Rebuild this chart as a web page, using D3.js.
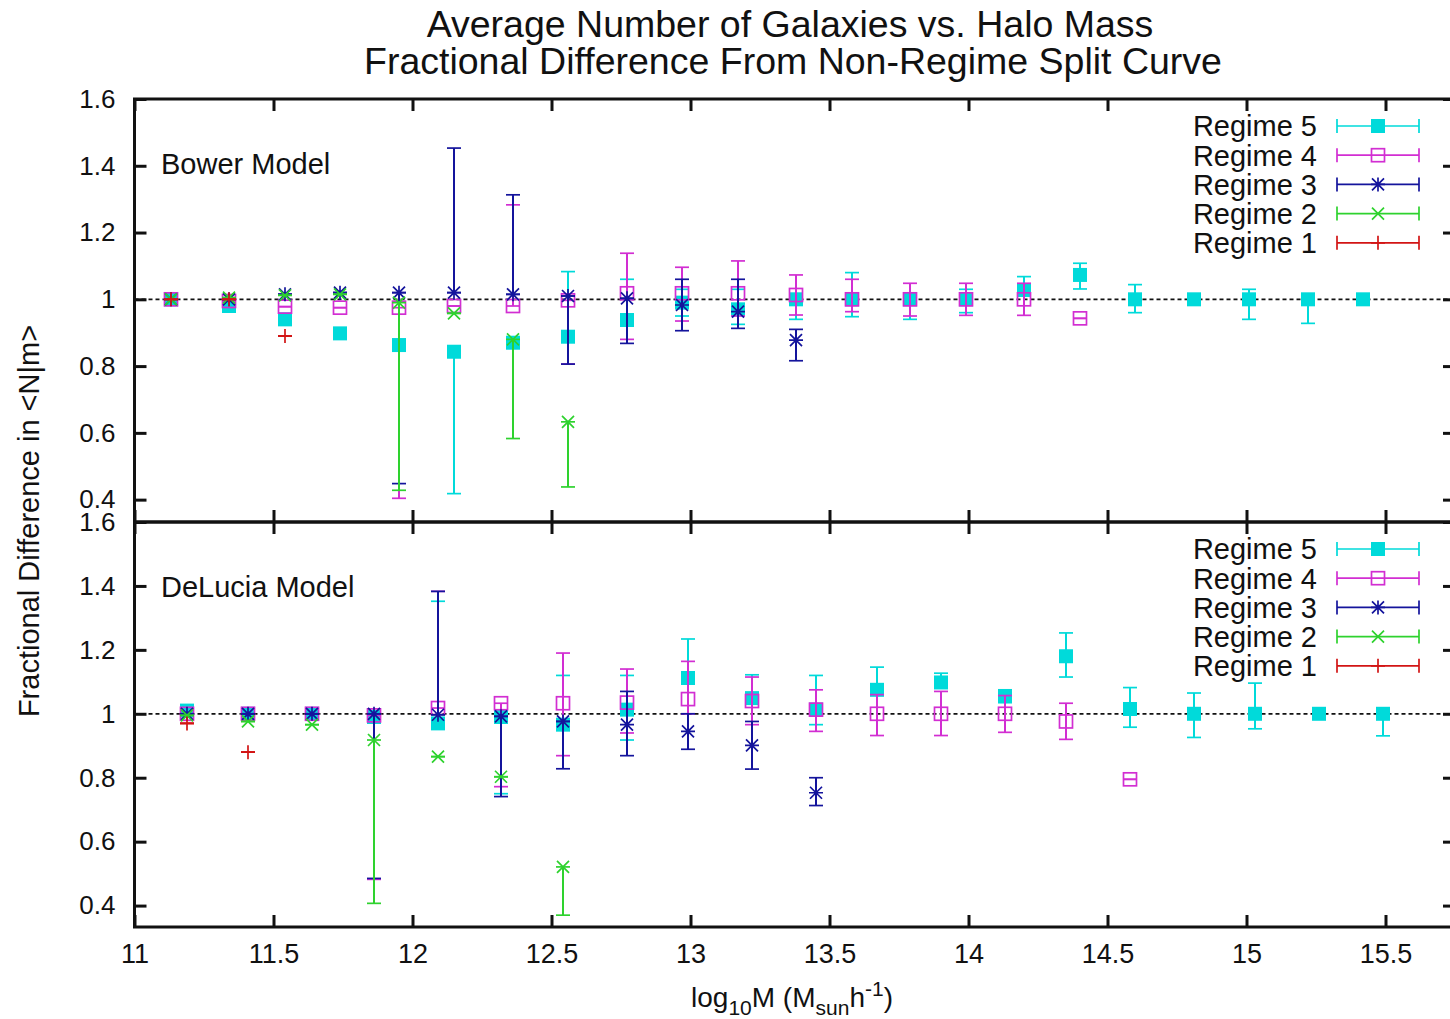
<!DOCTYPE html>
<html>
<head>
<meta charset="utf-8">
<script src="https://cdn.jsdelivr.net/npm/d3@7"></script>
<style>
  body { margin: 0; background: #fff; }
  text { font-family: "Liberation Sans", Arial, Helvetica, sans-serif; fill: #111; }
</style>
</head>
<body>
<svg id="chart" width="1450" height="1019"></svg>
<script>
// ---- Regimes (legend order = drawing order) ----
const regimeNames   = ["Regime 5", "Regime 4", "Regime 3", "Regime 2", "Regime 1"];
const regimeColors  = ["#00dada", "#d22ed2", "#14149c", "#2ed22e", "#d21414"];
const regimeSymbols = ["filledBox", "openBox", "star", "cross", "plus"];

// ---- Axis ticks ----
const massTicks      = [11, 11.5, 12, 12.5, 13, 13.5, 14, 14.5, 15, 15.5];
const massTickLabels = ["11", "11.5", "12", "12.5", "13", "13.5", "14", "14.5", "15", "15.5"];
const ratioTicks      = [0.4, 0.6, 0.8, 1, 1.2, 1.4, 1.6];
const ratioTickLabels = ["0.4", "0.6", "0.8", "1", "1.2", "1.4", "1.6"];

// ---- Bower model: halo-mass bins and [value, lower, upper] per regime ----
const bowerMass = [11.13, 11.34, 11.54, 11.74, 11.95, 12.15, 12.36, 12.56, 12.77, 12.97, 13.17,
                   13.38, 13.58, 13.79, 13.99, 14.20, 14.40, 14.60, 14.81, 15.01, 15.22, 15.42];
const bowerR5 = [[1.0, 1.0, 1.0], [0.98, 0.98, 0.98], [0.94, 0.94, 0.94], [0.898, 0.898, 0.898],
                 [0.863, 0.863, 0.863], [0.843, 0.418, 0.843], [0.87, 0.87, 0.87], [0.888, 0.888, 1.083],
                 [0.938, 0.938, 1.06], [0.99, 0.95, 1.03], [0.97, 0.925, 1.03], [1.0, 0.94, 1.0],
                 [1.0, 0.948, 1.08], [1.0, 0.94, 1.0], [1.0, 0.96, 1.03], [1.028, 1.028, 1.068],
                 [1.073, 1.031, 1.108], [1.0, 0.96, 1.044], [1.0, 0.987, 1.0], [1.0, 0.94, 1.03],
                 [1.0, 0.928, 1.0], [1.0, 1.0, 1.0]];
const bowerR4 = [[1.0, 1.0, 1.0], [0.995, 0.995, 0.995], [0.978, 0.978, 0.978], [0.975, 0.975, 0.975],
                 [0.975, 0.404, 0.975], [0.98, 0.98, 0.98], [0.98, 0.98, 1.283], [0.997, 0.806, 0.997],
                 [1.018, 0.88, 1.138], [1.018, 0.935, 1.096], [1.018, 0.95, 1.115], [1.013, 0.953, 1.073],
                 [1.0, 0.963, 1.06], [1.0, 0.95, 1.048], [1.0, 0.952, 1.048], [1.0, 0.952, 1.048],
                 [0.943, 0.943, 0.943]];
const bowerR3 = [[1.0, 1.0, 1.0], [1.0, 1.0, 1.0], [1.015, 1.015, 1.015], [1.02, 1.02, 1.02],
                 [1.02, 0.448, 1.02], [1.02, 1.02, 1.453], [1.015, 1.015, 1.313], [1.01, 0.806, 1.01],
                 [1.003, 0.868, 1.003], [0.983, 0.906, 1.06], [0.963, 0.913, 1.06], [0.878, 0.816, 0.91]];
const bowerR2 = [[1.0, 1.0, 1.0], [1.005, 1.005, 1.005], [1.012, 1.012, 1.012], [1.015, 1.015, 1.015],
                 [0.99, 0.428, 0.99], [0.958, 0.958, 0.958], [0.88, 0.583, 0.88], [0.633, 0.438, 0.633]];
const bowerR1 = [[1.0, 1.0, 1.0], [1.0, 1.0, 1.0], [0.89, 0.89, 0.89]];

// ---- DeLucia model ----
const deluciaMass = [11.19, 11.41, 11.64, 11.86, 12.09, 12.32, 12.54, 12.77, 12.99, 13.22,
                     13.45, 13.67, 13.90, 14.13, 14.35, 14.58, 14.81, 15.03, 15.26, 15.49];
const deluciaR5 = [[1.01, 1.01, 1.01], [1.0, 1.0, 1.0], [1.0, 1.0, 1.0], [0.99, 0.99, 0.99],
                   [0.97, 0.97, 1.352], [0.99, 0.75, 0.99], [0.966, 0.966, 1.12], [1.013, 0.918, 1.12],
                   [1.112, 1.112, 1.234], [1.049, 1.049, 1.122], [1.013, 0.966, 1.12], [1.075, 1.075, 1.146],
                   [1.098, 1.098, 1.127], [1.054, 1.054, 1.075], [1.18, 1.115, 1.253], [1.015, 0.958, 1.082],
                   [1.0, 0.926, 1.065], [1.0, 0.953, 1.096], [1.0, 1.0, 1.0], [1.0, 0.931, 1.0]];
const deluciaR4 = [[1.0, 1.0, 1.0], [1.0, 1.0, 1.0], [1.0, 1.0, 1.0], [0.995, 0.482, 0.995],
                   [1.018, 1.018, 1.383], [1.033, 0.772, 1.033], [1.033, 0.869, 1.19], [1.035, 0.94, 1.14],
                   [1.046, 1.0, 1.164], [1.04, 0.966, 1.115], [1.013, 0.945, 1.075], [1.0, 0.932, 1.06],
                   [1.0, 0.932, 1.07], [1.0, 0.942, 1.057], [0.976, 0.92, 1.033], [0.795, 0.795, 0.795]];
const deluciaR3 = [[1.0, 1.0, 1.0], [1.0, 1.0, 1.0], [1.0, 1.0, 1.0], [1.0, 0.485, 1.0],
                   [0.997, 0.997, 1.383], [0.992, 0.741, 0.992], [0.976, 0.828, 0.976], [0.966, 0.869, 1.07],
                   [0.945, 0.889, 1.0], [0.901, 0.827, 0.976], [0.753, 0.713, 0.80]];
const deluciaR2 = [[0.995, 0.995, 0.995], [0.976, 0.976, 0.976], [0.966, 0.966, 0.966],
                   [0.918, 0.407, 0.918], [0.866, 0.866, 0.866], [0.803, 0.803, 0.803], [0.521, 0.37, 0.521]];
const deluciaR1 = [[0.97, 0.97, 0.97], [0.88, 0.88, 0.88]];

// ---- Layout ----
const svg = d3.select("#chart");
const plotLeft = 134.5, plotRight = 1455;
const x = d3.scaleLinear().domain([11, 15.75]).range([plotLeft, plotRight]);

const panels = [
  { label: "Bower Model",   mass: bowerMass,   series: [bowerR5, bowerR4, bowerR3, bowerR2, bowerR1],
    top: 99, bottom: 522, showX: false },
  { label: "DeLucia Model", mass: deluciaMass, series: [deluciaR5, deluciaR4, deluciaR3, deluciaR2, deluciaR1],
    top: 522, bottom: 927, showX: true }
];

const ink = "#111";
const barWidth = 2;

function drawSymbol(g, kind, color) {
  if (kind === "filledBox") {
    g.append("rect").attr("x", -7).attr("y", -7).attr("width", 14).attr("height", 14)
      .attr("fill", color);
  } else if (kind === "openBox") {
    g.append("rect").attr("x", -6.5).attr("y", -6.5).attr("width", 13).attr("height", 13)
      .attr("fill", "none").attr("stroke", color).attr("stroke-width", 1.7);
  } else {
    let d = "";
    if (kind === "plus" || kind === "star") d += "M-7,0H7M0,-7V7";
    if (kind === "cross" || kind === "star") d += "M-6,-6L6,6M-6,6L6,-6";
    g.append("path").attr("d", d).attr("fill", "none")
      .attr("stroke", color).attr("stroke-width", 1.7);
  }
}

panels.forEach(p => {
  const y = d3.scaleLinear().domain([0.333, 1.6]).range([p.bottom, p.top]);
  const g = svg.append("g");

  // reference line at unity
  g.append("line")
    .attr("x1", plotLeft).attr("x2", plotRight)
    .attr("y1", y(1)).attr("y2", y(1))
    .attr("stroke", ink).attr("stroke-width", 1.8).attr("stroke-dasharray", "4,3");

  // data: error bars then markers, regime by regime
  p.series.forEach((pts, si) => {
    const color = regimeColors[si];
    const sg = g.append("g");
    pts.forEach((pt, i) => {
      const [v, lo, hi] = pt;
      const cx = Math.round(x(p.mass[i]));
      sg.append("line").attr("x1", cx).attr("x2", cx).attr("y1", y(lo)).attr("y2", y(hi))
        .attr("stroke", color).attr("stroke-width", barWidth);
      [lo, hi].forEach(e => {
        sg.append("line").attr("x1", cx - 7).attr("x2", cx + 7).attr("y1", y(e)).attr("y2", y(e))
          .attr("stroke", color).attr("stroke-width", 1.7);
      });
      const mg = sg.append("g").attr("transform", `translate(${cx},${y(v)})`);
      drawSymbol(mg, regimeSymbols[si], color);
    });
  });

  // axes (ticks point inward on all four sides)
  const styleAxis = (sel, size) => {
    sel.select(".domain").remove();
    sel.selectAll(".tick line").attr("stroke", ink).attr("stroke-width", 3);
    sel.selectAll(".tick text").attr("font-size", size).attr("fill", ink)
      .attr("font-family", '"Liberation Sans", Arial, sans-serif');
  };
  g.append("g").attr("transform", `translate(${plotLeft},0)`)
    .call(d3.axisLeft(y).tickValues(ratioTicks).tickSize(-12).tickPadding(19)
      .tickFormat((d, i) => ratioTickLabels[i]))
    .call(styleAxis, 26);
  g.append("g").attr("transform", `translate(${plotRight},0)`)
    .call(d3.axisRight(y).tickValues(ratioTicks).tickSize(-12).tickFormat(""))
    .call(styleAxis, 26);
  g.append("g").attr("transform", `translate(0,${p.top})`)
    .call(d3.axisTop(x).tickValues(massTicks).tickSize(-12).tickFormat(""))
    .call(styleAxis, 27);
  g.append("g").attr("transform", `translate(0,${p.bottom})`)
    .call(d3.axisBottom(x).tickValues(massTicks).tickSize(-12).tickPadding(17)
      .tickFormat((d, i) => p.showX ? massTickLabels[i] : ""))
    .call(styleAxis, 27);

  // frame
  g.append("rect").attr("x", plotLeft).attr("y", p.top)
    .attr("width", plotRight - plotLeft).attr("height", p.bottom - p.top)
    .attr("fill", "none").attr("stroke", ink).attr("stroke-width", 3);

  // model label
  g.append("text").attr("x", 161).attr("y", p.top + 75)
    .attr("font-size", 29).text(p.label);

  // legend
  const lg = g.append("g");
  regimeNames.forEach((name, si) => {
    const ly = p.top + 27 + si * 29.2;
    lg.append("text").attr("x", 1317).attr("y", ly).attr("dy", "0.36em")
      .attr("text-anchor", "end").attr("font-size", 29).text(name);
    const c = regimeColors[si];
    lg.append("line").attr("x1", 1337).attr("x2", 1419).attr("y1", ly).attr("y2", ly)
      .attr("stroke", c).attr("stroke-width", 1.7);
    [1337, 1419].forEach(ex => lg.append("line").attr("x1", ex).attr("x2", ex)
      .attr("y1", ly - 7).attr("y2", ly + 7).attr("stroke", c).attr("stroke-width", 1.7));
    drawSymbol(lg.append("g").attr("transform", `translate(1378,${ly})`), regimeSymbols[si], c);
  });
});

// ---- Titles ----
svg.append("text").attr("x", 790).attr("y", 37).attr("text-anchor", "middle")
  .attr("font-size", 37.5).text("Average Number of Galaxies vs. Halo Mass");
svg.append("text").attr("x", 793).attr("y", 74).attr("text-anchor", "middle")
  .attr("font-size", 37.5).text("Fractional Difference From Non-Regime Split Curve");

// y-axis title
svg.append("text").attr("transform", "translate(39,521) rotate(-90)")
  .attr("text-anchor", "middle").attr("font-size", 29)
  .text("Fractional Difference in <N|m>");

// x-axis title with sub/superscripts
const xt = svg.append("text").attr("x", 792).attr("y", 1007)
  .attr("text-anchor", "middle").attr("font-size", 28);
xt.append("tspan").text("log");
xt.append("tspan").attr("font-size", 21).attr("dy", 8).text("10");
xt.append("tspan").attr("dy", -8).text("M (M");
xt.append("tspan").attr("font-size", 21).attr("dy", 8).text("sun");
xt.append("tspan").attr("dy", -8).text("h");
xt.append("tspan").attr("font-size", 21).attr("dy", -11).text("-1");
xt.append("tspan").attr("dy", 11).text(")");
</script>
</body>
</html>
